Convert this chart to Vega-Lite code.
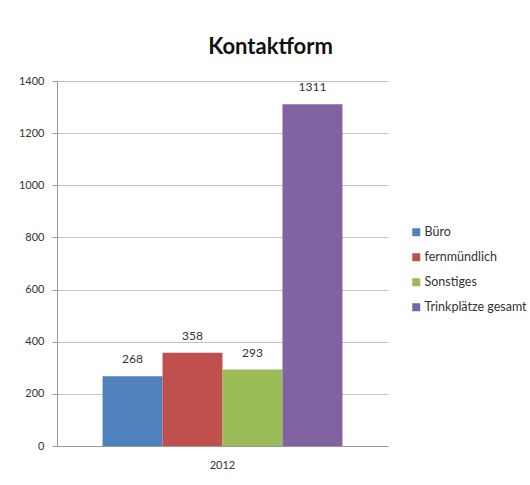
{
  "$schema": "https://vega.github.io/schema/vega-lite/v6.json",
  "autosize": "none",
  "padding": {"left": 57, "top": 81, "right": 142, "bottom": 39},
  "width": 331,
  "height": 365,
  "background": "white",
  "title": {
    "text": "Kontaktform",
    "font": "Lato",
    "fontSize": 22,
    "fontWeight": "bold",
    "color": "#111111",
    "anchor": "middle",
    "dx": 48,
    "offset": 16
  },
  "data": {
    "values": [
      {"year": "2012", "kategorie": "Büro", "anzahl": 268},
      {"year": "2012", "kategorie": "fernmündlich", "anzahl": 358},
      {"year": "2012", "kategorie": "Sonstiges", "anzahl": 293},
      {"year": "2012", "kategorie": "Trinkplätze gesamt", "anzahl": 1311}
    ]
  },
  "encoding": {
    "x": {
      "field": "year",
      "type": "nominal",
      "scale": {"paddingInner": 0, "paddingOuter": 0.19},
      "axis": {
        "title": null,
        "labelAngle": 0,
        "labelFont": "Lato",
        "labelFontSize": 11,
        "labelColor": "#333333",
        "labelPadding": 13,
        "domainColor": "#999999",
        "ticks": false
      }
    },
    "xOffset": {
      "field": "kategorie",
      "type": "nominal",
      "sort": ["Büro", "fernmündlich", "Sonstiges", "Trinkplätze gesamt"],
      "scale": {"paddingInner": 0, "paddingOuter": 0}
    },
    "y": {
      "field": "anzahl",
      "type": "quantitative",
      "scale": {"domain": [0, 1400], "nice": false},
      "axis": {
        "title": null,
        "values": [0, 200, 400, 600, 800, 1000, 1200, 1400],
        "format": "d",
        "labelFont": "Lato",
        "labelFontSize": 11,
        "labelColor": "#333333",
        "labelPadding": 8,
        "tickSize": 5,
        "tickColor": "#999999",
        "domainColor": "#999999",
        "gridColor": "#c4c4c4",
        "grid": true
      }
    }
  },
  "layer": [
    {
      "mark": {"type": "bar"},
      "encoding": {
        "color": {
          "field": "kategorie",
          "type": "nominal",
          "sort": ["Büro", "fernmündlich", "Sonstiges", "Trinkplätze gesamt"],
          "scale": {
            "domain": ["Büro", "fernmündlich", "Sonstiges", "Trinkplätze gesamt"],
            "range": ["#4F81BD", "#C0504D", "#9BBB59", "#8064A2"]
          },
          "legend": {
            "title": null,
            "orient": "none",
            "legendX": 353,
            "legendY": 145,
            "symbolType": "square",
            "symbolSize": 64,
            "symbolStrokeWidth": 0,
            "labelFont": "Lato",
            "labelFontSize": 12.5,
            "labelColor": "#333333",
            "labelOffset": 2,
            "rowPadding": 12
          }
        }
      }
    },
    {
      "mark": {"type": "text", "baseline": "bottom", "dy": -10, "font": "Lato", "fontSize": 12, "color": "#333333"},
      "encoding": {
        "text": {"field": "anzahl", "type": "quantitative", "format": "d"}
      }
    }
  ],
  "config": {
    "view": {"stroke": null}
  }
}
